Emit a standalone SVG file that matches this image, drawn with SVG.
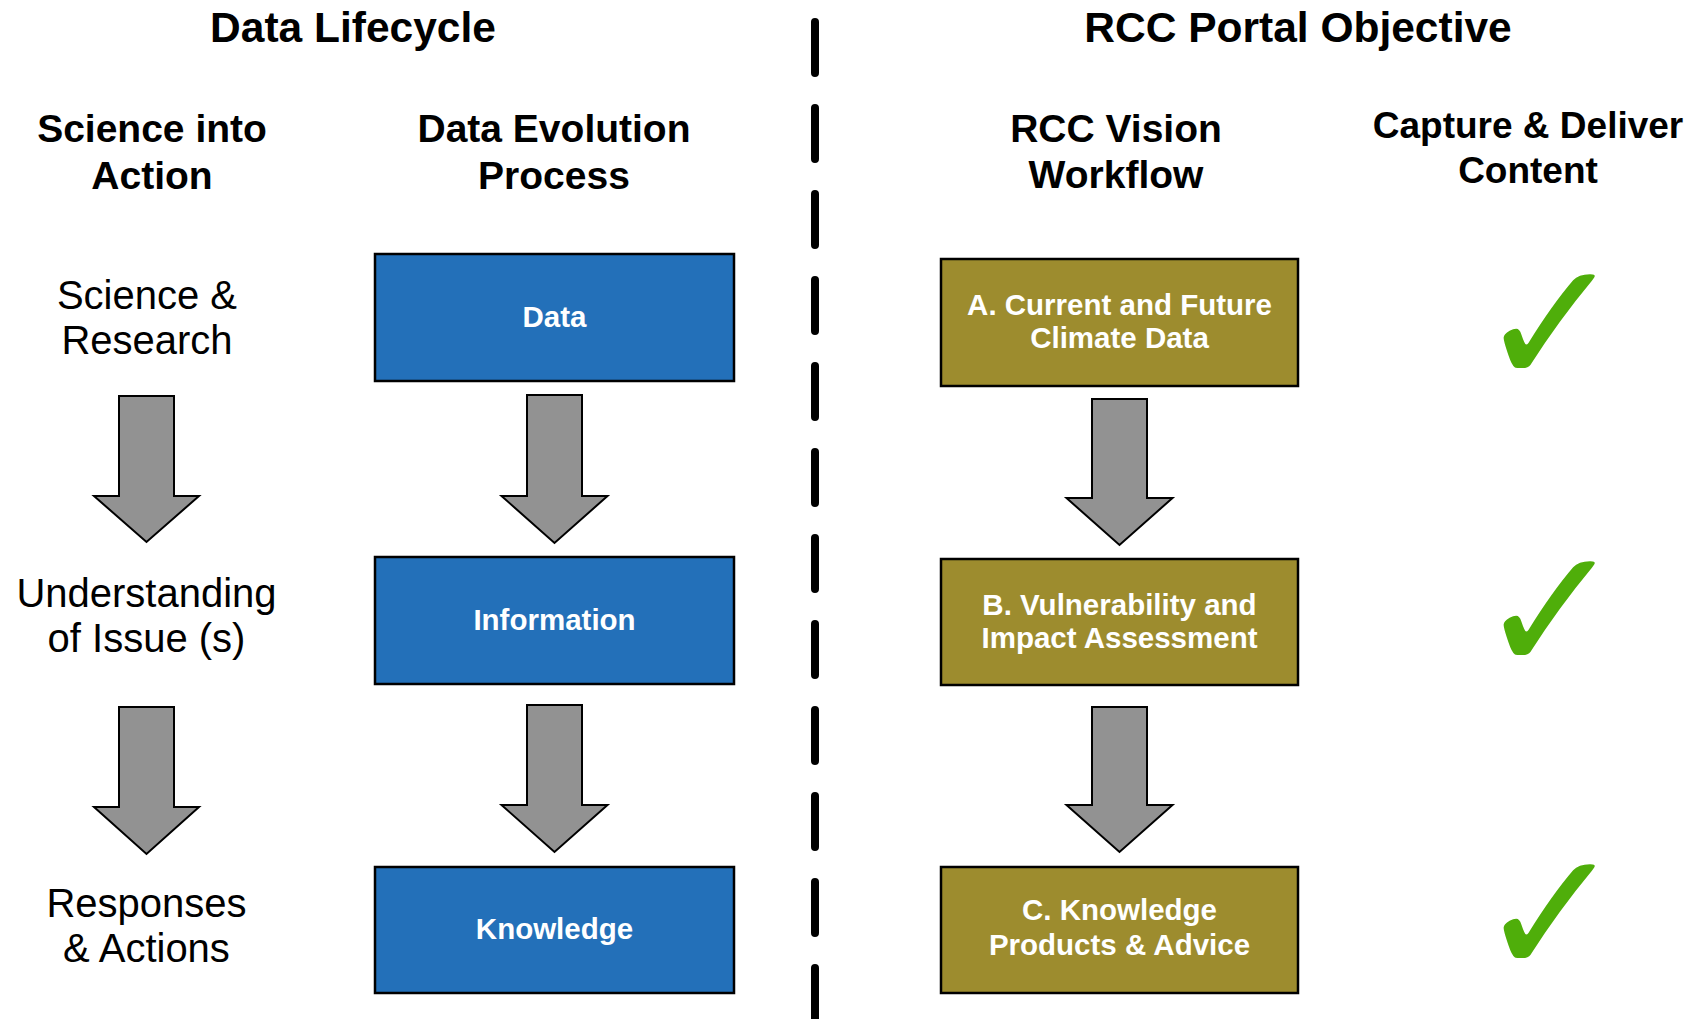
<svg xmlns="http://www.w3.org/2000/svg" width="1699" height="1019" viewBox="0 0 1699 1019">
<style>
text{font-family:"Liberation Sans",Arial,Helvetica,sans-serif;text-anchor:middle}
.title{font-size:42.5px;font-weight:bold;fill:#000}
.head{font-size:39px;font-weight:bold;fill:#000}
.lbl{font-size:40px;fill:#000}
.btxt{font-size:29.5px;font-weight:bold;fill:#fff}
.blue{fill:#2370B9;stroke:#000;stroke-width:2.5}
.olive{fill:#9D8C2E;stroke:#000;stroke-width:2.5}
.arrow{fill:#929292;stroke:#000;stroke-width:2;stroke-linejoin:miter}
.check{font-family:"DejaVu Sans",sans-serif;font-size:176px;fill:#4FAE0A}
.divider{stroke:#000;stroke-width:8;stroke-linecap:round;stroke-dasharray:51 35;fill:none}
</style>
<rect width="1699" height="1019" fill="#fff"/>
<g id="titles">
<text class="title" x="353" y="42">Data Lifecycle</text>
<text class="title" x="1298" y="42">RCC Portal Objective</text>
</g>
<g id="headers">
<text class="head" x="152" y="142">Science into<tspan x="152" y="189">Action</tspan></text>
<text class="head" x="554" y="142">Data Evolution<tspan x="554" y="189">Process</tspan></text>
<text class="head" x="1116" y="142">RCC Vision<tspan x="1116" y="188">Workflow</tspan></text>
<text class="head" x="1528" y="138" style="font-size:37px">Capture &amp; Deliver<tspan x="1528" y="183">Content</tspan></text>
</g>
<line id="divider" class="divider" x1="815" y1="22" x2="815" y2="1040"/>
<g id="stage-science">
<text class="lbl" x="147" y="309">Science &amp;<tspan x="147" y="354">Research</tspan></text>
</g>
<g id="stage-understanding">
<text class="lbl" x="146.5" y="607">Understanding<tspan x="146.5" y="652">of Issue (s)</tspan></text>
</g>
<g id="stage-responses">
<text class="lbl" x="146.5" y="917">Responses<tspan x="146.5" y="962">&amp; Actions</tspan></text>
</g>
<g id="node-data">
<rect class="blue" x="375" y="254" width="359" height="127"/>
<text class="btxt" x="554.5" y="327">Data</text>
</g>
<g id="node-information">
<rect class="blue" x="375" y="557" width="359" height="127"/>
<text class="btxt" x="554.5" y="630">Information</text>
</g>
<g id="node-knowledge">
<rect class="blue" x="375" y="867" width="359" height="126"/>
<text class="btxt" x="554.5" y="939">Knowledge</text>
</g>
<g id="node-a">
<rect class="olive" x="941" y="259" width="357" height="127"/>
<text class="btxt" x="1119.5" y="315">A. Current and Future<tspan x="1119.5" y="348">Climate Data</tspan></text>
</g>
<g id="node-b">
<rect class="olive" x="941" y="559" width="357" height="126"/>
<text class="btxt" x="1119.5" y="615">B. Vulnerability and<tspan x="1119.5" y="648">Impact Assessment</tspan></text>
</g>
<g id="node-c">
<rect class="olive" x="941" y="867" width="357" height="126"/>
<text class="btxt" x="1119.5" y="920">C. Knowledge<tspan x="1119.5" y="955">Products &amp; Advice</tspan></text>
</g>
<g id="checks">
<text class="check" x="1551" y="385">✓</text>
<text class="check" x="1551" y="672">✓</text>
<text class="check" x="1551" y="975">✓</text>
</g>
<g id="connectors">
<polygon class="arrow" points="119,396 174,396 174,496 199,496 146.5,542 94,496 119,496"/>
<polygon class="arrow" points="119,707 174,707 174,807 199,807 146.5,854 94,807 119,807"/>
<polygon class="arrow" points="527,395 582,395 582,496 607.5,496 554.5,543 501.5,496 527,496"/>
<polygon class="arrow" points="527,705 582,705 582,805 607.5,805 554.5,852 501.5,805 527,805"/>
<polygon class="arrow" points="1092,399 1147,399 1147,498 1172.5,498 1119.5,545 1066.5,498 1092,498"/>
<polygon class="arrow" points="1092,707 1147,707 1147,805 1172.5,805 1119.5,852 1066.5,805 1092,805"/>
</g>
</svg>
